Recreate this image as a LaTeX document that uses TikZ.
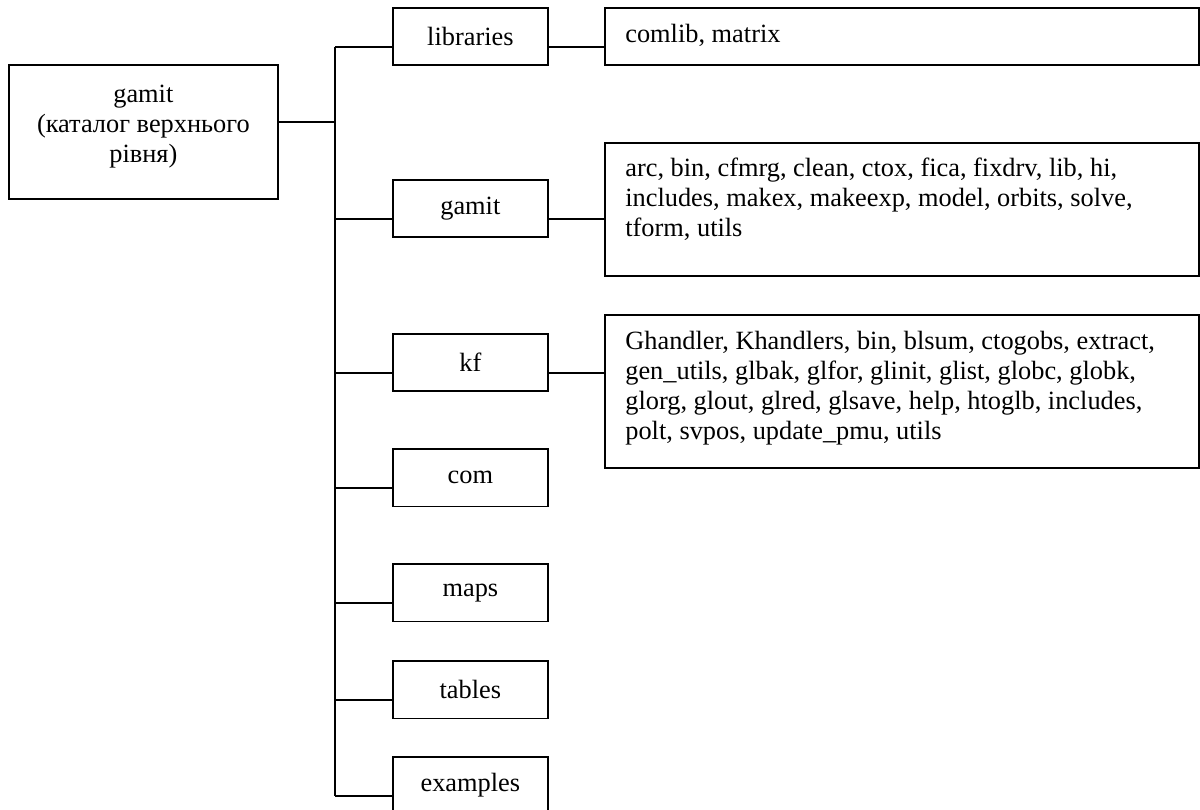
\documentclass[tikz,border=0pt]{standalone}
\usepackage{fontspec}
\setmainfont{Liberation Serif}
\usetikzlibrary{positioning}
\newcommand{\dirfont}{\fontsize{15}{17}\selectfont}

\begin{document}
\begin{tikzpicture}[x=0.02cm,y=-0.02cm,
  dirbox/.style={draw,line width=0.035cm,minimum width=3.1cm,minimum height=1.15cm,inner sep=0pt,anchor=north west,font=\dirfont},
  listbox/.style={draw,line width=0.035cm,minimum width=11.88cm,inner sep=0pt,anchor=north west},
  listtext/.style={anchor=north west,inner sep=0pt,align=left,font=\dirfont},
  wire/.style={line width=0.035cm}]
\useasboundingbox (0,0) rectangle (1200,809);

% top level catalogue
\node[draw,line width=0.035cm,minimum width=5.38cm,minimum height=2.68cm,inner sep=0pt,anchor=north west] (root) at (8,64) {};
\node[align=center,inner sep=0pt,font=\dirfont] (roottext) at ([yshift=1.1mm]root.center) {gamit\\(каталог верхнього\\рівня)};

% sub directories
\node[dirbox] (libraries) at (392,7) {libraries};
\node[dirbox] (gamitdir) at (392,179) {gamit};
\node[dirbox] (kf) at (392,333) {kf};
\node[dirbox] (com) at (392,448) {com};
\node[dirbox] (maps) at (392,563) {maps};
\node[dirbox] (tables) at (392,660) {tables};
\node[dirbox] (examples) at (392,756) {examples};

% contents
\node[listbox,minimum height=1.14cm] (liblist) at (604,7) {};
\node[listbox,minimum height=2.66cm] (gamitlist) at (604,142) {};
\node[listbox,minimum height=3.06cm] (kflist) at (604,314) {};
\node[listtext] (libtext) at ([xshift=4.2mm,yshift=-3.4mm]liblist.north west) {comlib, matrix};
\node[listtext] (gamittext) at ([xshift=4.2mm,yshift=-3.1mm]gamitlist.north west) {arc, bin, cfmrg, clean, ctox, fica, fixdrv, lib, hi,\\includes, makex, makeexp, model, orbits, solve,\\tform, utils};
\node[listtext] (kftext) at ([xshift=4.2mm,yshift=-3.4mm]kflist.north west) {Ghandler, Khandlers, bin, blsum, ctogobs, extract,\\gen\_utils, glbak, glfor, glinit, glist, globc, globk,\\glorg, glout, glred, glsave, help, htoglb, includes,\\polt, svpos, update\_pmu, utils};

% tree lines
\coordinate (trunktop) at ([xshift=-1.14cm,yshift=0.38cm]libraries.south west);
\coordinate (trunkbot) at ([xshift=-1.14cm,yshift=0.38cm]examples.south west);
\draw[wire] (trunktop) -- (trunkbot);
\draw[wire] ([yshift=2mm]root.east) -- ([yshift=2mm]root.east -| trunktop);
\foreach \d in {libraries,gamitdir,kf,com,maps,tables,examples}
  \draw[wire] ([yshift=0.38cm]\d.south west) -- ([yshift=0.38cm]\d.south west -| trunktop);
\draw[wire] ([yshift=0.38cm]libraries.south east) -- ([yshift=0.38cm]libraries.south east -| liblist.west);
\draw[wire] ([yshift=0.38cm]gamitdir.south east) -- ([yshift=0.38cm]gamitdir.south east -| gamitlist.west);
\draw[wire] ([yshift=0.38cm]kf.south east) -- ([yshift=0.38cm]kf.south east -| kflist.west);
\end{tikzpicture}
\end{document}
